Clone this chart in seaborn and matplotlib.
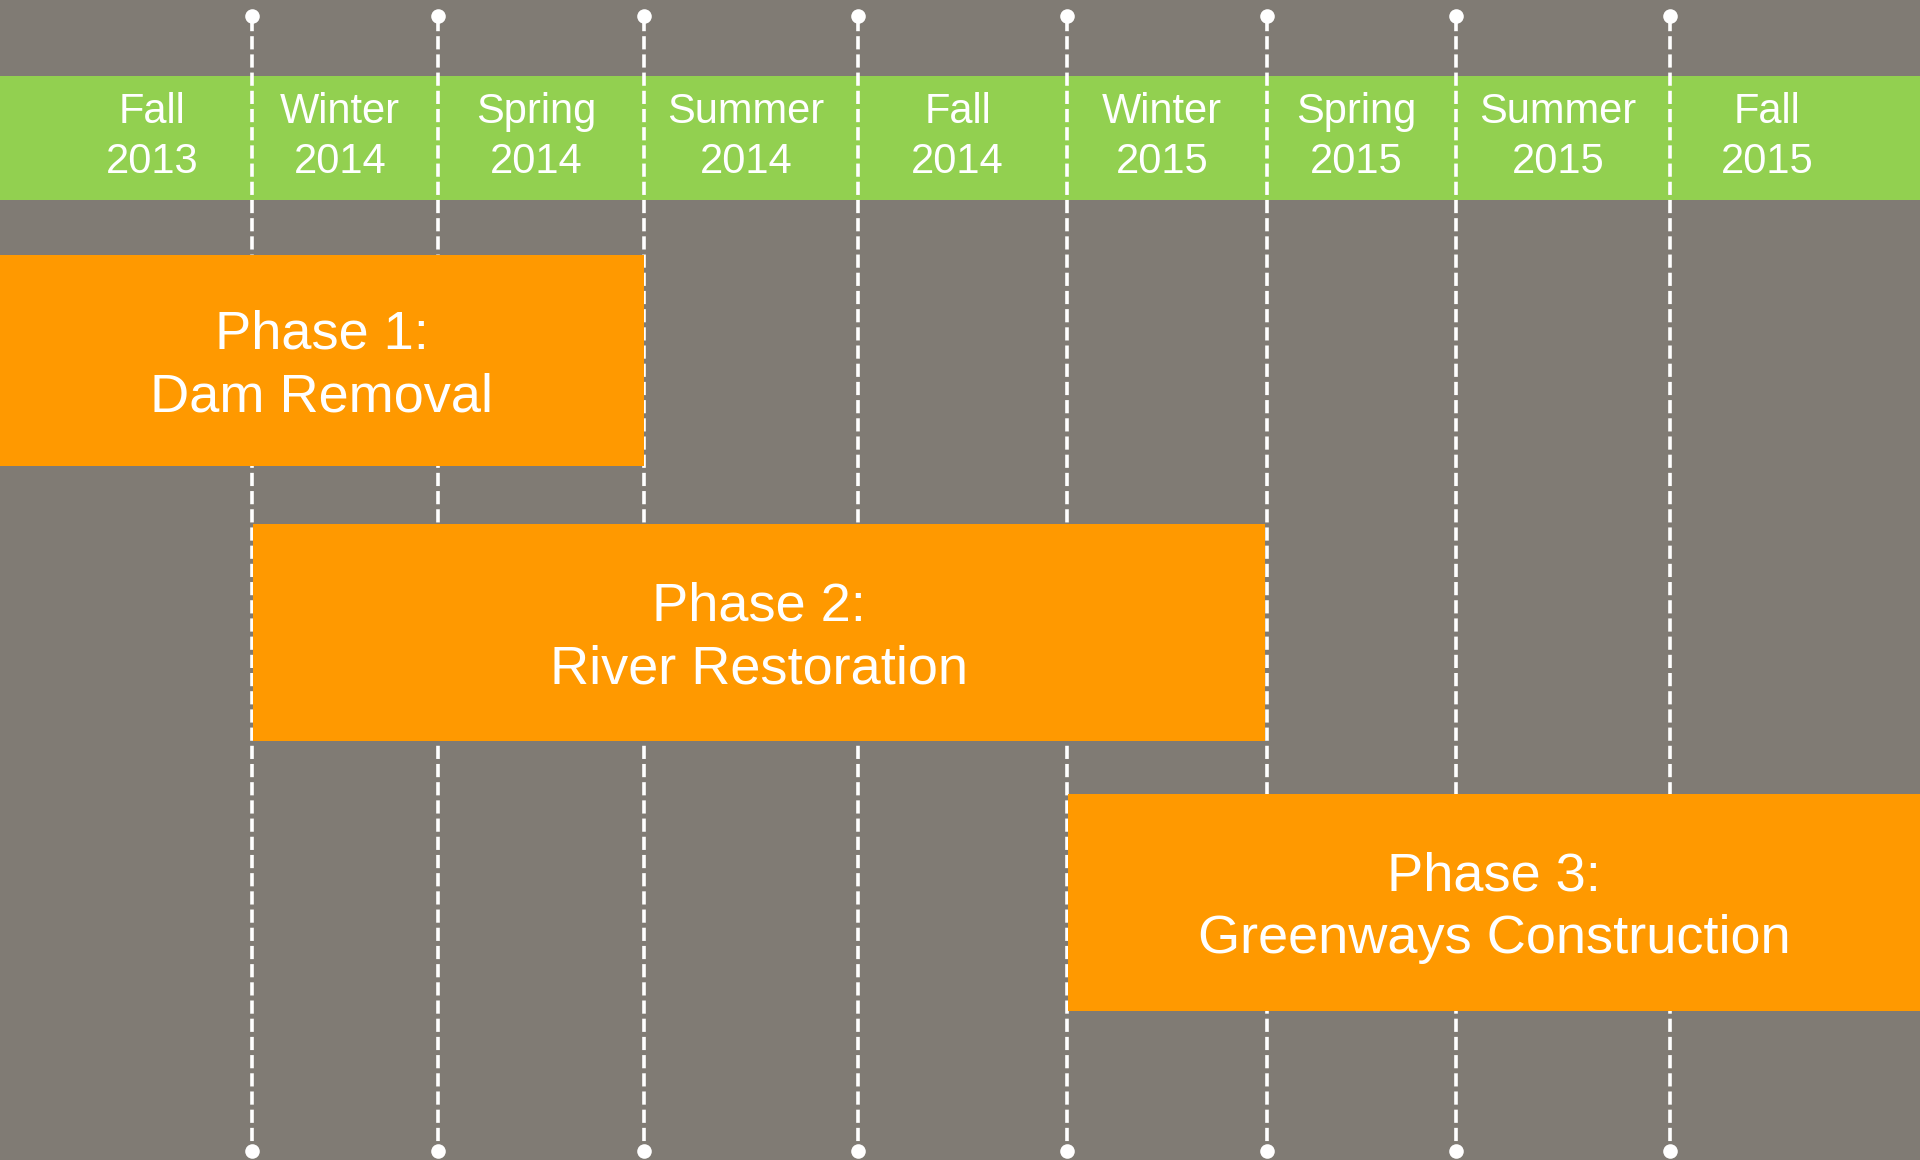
import matplotlib
matplotlib.use("Agg")
import matplotlib.pyplot as plt
import seaborn as sns
import pandas as pd

# timeline data (x in timeline units, 0..1920 across the whole strip)
seasons = ["Fall\n2013", "Winter\n2014", "Spring\n2014", "Summer\n2014", "Fall\n2014",
           "Winter\n2015", "Spring\n2015", "Summer\n2015", "Fall\n2015"]
season_edges = [62, 252, 438, 644, 858, 1067, 1267, 1456, 1670, 1874]

phases = ["Phase 1:\nDam Removal", "Phase 2:\nRiver Restoration", "Phase 3:\nGreenways Construction"]
phase_start = [0, 253, 1068]
phase_end = [644, 1265, 1920]

# style
BG = "#807b74"
GREEN = "#92d050"
ORANGE = "#ff9900"
WHITE = "#ffffff"

sns.set_theme(style="white")
plt.rcParams["font.family"] = ["Liberation Sans", "DejaVu Sans"]
plt.rcParams["lines.scale_dashes"] = False

fig = plt.figure(figsize=(19.2, 11.6), dpi=100, facecolor=BG)
ax = fig.add_axes([0, 0, 1, 1])
ax.set_facecolor(BG)
ax.set_xlim(0, 1920)
ax.set_ylim(1160, 0)
ax.axis("off")

# season band
ax.axhspan(76, 200, color=GREEN, zorder=1, lw=0)
for i, label in enumerate(seasons):
    mid = (season_edges[i] + season_edges[i + 1]) / 2 - 5
    ax.text(mid, 137, label, ha="center", va="center", fontsize=30, color=WHITE,
            linespacing=1.32, zorder=5)

# dashed season boundaries with end dots
bounds = season_edges[1:-1]
ax.vlines(bounds, 18, 1150, colors=WHITE, lw=2.6, linestyles=(0, (9.5, 3.6)), zorder=2)
dots = pd.DataFrame({"x": bounds * 2, "y": [16] * len(bounds) + [1151] * len(bounds)})
sns.scatterplot(data=dots, x="x", y="y", ax=ax, s=110, color=WHITE, linewidth=0,
                zorder=3, legend=False)

# phase bars
rows = [360, 632, 902]
heights = [211, 217, 217]
for name, s, e, yc, h in zip(phases, phase_start, phase_end, rows, heights):
    ax.barh(yc, e - s, left=s, height=h, color=ORANGE, lw=0, zorder=4)
    ax.text((s + e) / 2, yc + 6, name, ha="center", va="center", fontsize=39,
            color=WHITE, linespacing=1.33, zorder=5)

ax.set_xlabel("")
ax.set_ylabel("")
ax.set_xlim(0, 1920)
ax.set_ylim(1160, 0)
fig.savefig("out.png", dpi=100, facecolor=BG)
